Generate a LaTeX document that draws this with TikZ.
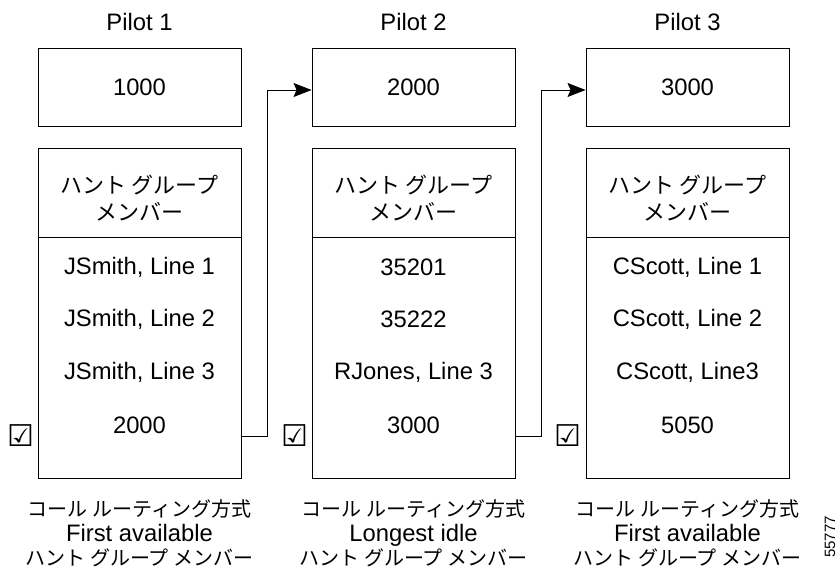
\documentclass[tikz,border=0pt]{standalone}
\usepackage{fontspec}
\setmainfont{Liberation Sans}
\newfontfamily\jpfont{Noto Sans CJK JP}
\newfontfamily\symfont{DejaVu Sans}
\usetikzlibrary{positioning,arrows.meta}
\tikzstyle{box3}=[draw,line width=0.9pt,minimum width=203pt,inner sep=0pt,font=\fontsize{23.8}{28}\selectfont]
\newcommand{\headtext}{\rule{0pt}{30pt}ハント グループ\\メンバー}

\begin{document}
\begin{tikzpicture}[x=1pt,y=-1pt,node distance=52.7pt]

\tikzstyle{num}=[box3,minimum height=78pt]
\tikzstyle{head}=[box3,minimum height=89pt,align=center,font=\jpfont\fontsize{22}{27}\selectfont]
\tikzstyle{body}=[box3,minimum height=241pt]
\tikzstyle{item}=[font=\fontsize{23.8}{28}\selectfont]
\tikzstyle{label}=[align=center,font=\fontsize{23.8}{24.5}\selectfont]
\tikzstyle{tick}=[font=\symfont\fontsize{30}{30}\selectfont,inner sep=0pt]
\tikzstyle{arrow}=[-{Stealth[length=18pt,width=14pt,inset=3pt]},line width=0.9pt]

\useasboundingbox (0,0) rectangle (837,567);

% pilot 1
\node (P1) [item] at (139.5,22) {Pilot 1};
\node (A)  [num]  at (139.5,87) {1000};
\node (Ah) [head] at (139.5,192.5) {\headtext};
\node (Ab) [body] at (139.5,357.5) {};
\node (A1) [item] at (139.5,267) {JSmith, Line 1};
\node (A2) [item, below of = A1] {JSmith, Line 2};
\node (A3) [item, below of = A2] {JSmith, Line 3};
\node (A4) [item, below of = A3] {2000};
\node (At) [tick] at (21,436) {☑};
\node (Al) [label] at (139.5,533.5) {{\jpfont\fontsize{20}{24.5}\selectfont コール ルーティング方式}\\
                                     First available\\
                                     {\jpfont\fontsize{20}{24.5}\selectfont ハント グループ メンバー}};

% pilot 2
\node (P2) [item] at (413.5,22) {Pilot 2};
\node (B)  [num]  at (413.5,87) {2000};
\node (Bh) [head] at (413.5,192.5) {\headtext};
\node (Bb) [body] at (413.5,357.5) {};
\node (B1) [item] at (413.5,267) {35201};
\node (B2) [item, below of = B1] {35222};
\node (B3) [item, below of = B2] {RJones, Line 3};
\node (B4) [item, below of = B3] {3000};
\node (Bt) [tick] at (295,436) {☑};
\node (Bl) [label] at (413.5,533.5) {{\jpfont\fontsize{20}{24.5}\selectfont コール ルーティング方式}\\
                                     Longest idle\\
                                     {\jpfont\fontsize{20}{24.5}\selectfont ハント グループ メンバー}};

% pilot 3
\node (P3) [item] at (687.5,22) {Pilot 3};
\node (C)  [num]  at (687.5,87) {3000};
\node (Ch) [head] at (687.5,192.5) {\headtext};
\node (Cb) [body] at (687.5,357.5) {};
\node (C1) [item] at (687.5,267) {CScott, Line 1};
\node (C2) [item, below of = C1] {CScott, Line 2};
\node (C3) [item, below of = C2] {CScott, Line3};
\node (C4) [item, below of = C3] {5050};
\node (Ct) [tick] at (568,436) {☑};
\node (Cl) [label] at (687.5,533.5) {{\jpfont\fontsize{20}{24.5}\selectfont コール ルーティング方式}\\
                                     First available\\
                                     {\jpfont\fontsize{20}{24.5}\selectfont ハント グループ メンバー}};

\node (N) [rotate=90,font=\fontsize{15}{15}\selectfont] at (830,537) {55777};

\draw [arrow] ([yshift=-11pt]A4.center -| Ab.east) -- ++(26,0) |- ([yshift=-3pt]B.west);
\draw [arrow] ([yshift=-11pt]B4.center -| Bb.east) -- ++(26,0) |- ([yshift=-3pt]C.west);

\end{tikzpicture}
\end{document}
